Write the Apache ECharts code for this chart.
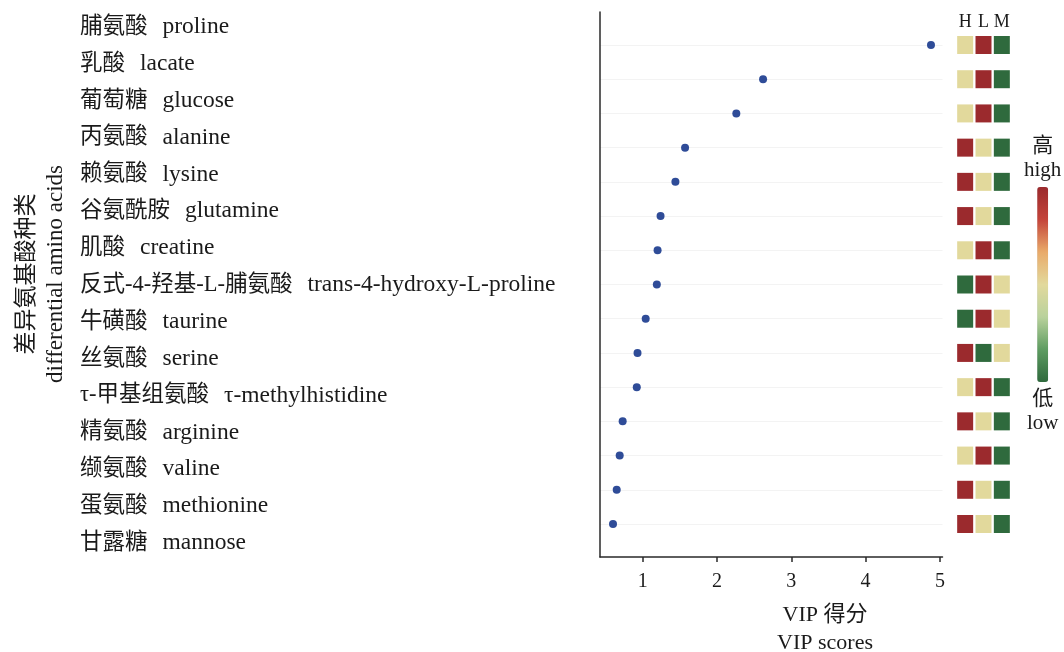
<!DOCTYPE html>
<html>
<head>
<meta charset="utf-8">
<script src="https://cdn.jsdelivr.net/npm/echarts@6/dist/echarts.min.js"></script>
<style>
  html, body { margin: 0; padding: 0; background: #fff; }
  #chart { width: 1064px; height: 652px; }
</style>
</head>
<body>
<div id="chart"></div>
<script>
    // 代谢物名称（中文 + 英文）
    const labelsCn = ['脯氨酸', '乳酸', '葡萄糖', '丙氨酸', '赖氨酸', '谷氨酰胺', '肌酸', '反式-4-羟基-L-脯氨酸',
        '牛磺酸', '丝氨酸', 'τ-甲基组氨酸', '精氨酸', '缬氨酸', '蛋氨酸', '甘露糖'];
    const labelsEn = ['proline', 'lacate', 'glucose', 'alanine', 'lysine', 'glutamine', 'creatine', 'trans-4-hydroxy-L-proline',
        'taurine', 'serine', 'τ-methylhistidine', 'arginine', 'valine', 'methionine', 'mannose'];

    // VIP 得分
    const vipScores = [4.88, 2.62, 2.26, 1.57, 1.44, 1.24, 1.20, 1.19, 1.04, 0.93, 0.92, 0.73, 0.69, 0.65, 0.60];

    // 热图分组 和 每组的相对水平 (0 低, 1 中, 2 高)
    const groups = ['H', 'L', 'M'];
    const levelH = [1, 1, 1, 2, 2, 2, 1, 0, 0, 2, 1, 2, 1, 2, 2];
    const levelL = [2, 2, 2, 1, 1, 1, 2, 2, 2, 0, 2, 1, 2, 1, 1];
    const levelM = [0, 0, 0, 0, 0, 0, 0, 1, 1, 1, 0, 0, 0, 0, 0];

    const xTicks = [1, 2, 3, 4, 5];

    const fontFamily = "'Liberation Serif', 'Noto Sans CJK SC', serif";
    const textColor = '#1a1a1a';

    let categories = labelsCn.map((c, i) => c + '  ' + labelsEn[i]);

    let heatData = [];
    [levelH, levelL, levelM].forEach((arr, g) => {
        arr.forEach((v, i) => {
            heatData.push([groups[g], categories[i], v]);
        });
    });

    let chart = echarts.init(document.getElementById('chart'));

    let option = {
        animation: false,
        title: {
            text: 'VIP 得分\nVIP scores',
            left: 825,
            top: 601,
            padding: 0,
            textAlign: 'center',
            textStyle: {
                fontFamily: fontFamily,
                fontSize: 22,
                fontWeight: 'normal',
                lineHeight: 28,
                color: textColor
            }
        },
        graphic: [{
            type: 'text',
            x: 41,
            y: 274,
            rotation: Math.PI / 2,
            style: {
                text: '差异氨基酸种类\ndifferential amino acids',
                fontFamily: fontFamily,
                fontSize: 23,
                lineHeight: 29,
                align: 'center',
                verticalAlign: 'middle',
                fill: textColor
            }
        }],
        visualMap: {
            type: 'continuous',
            seriesIndex: 2,
            dimension: 2,
            min: 0,
            max: 2,
            calculable: false,
            orient: 'vertical',
            left: 1024,
            top: 134,
            padding: 0,
            itemWidth: 11,
            itemHeight: 195,
            textGap: 5,
            text: ['高\nhigh', '低\nlow'],
            textStyle: {
                fontFamily: fontFamily,
                fontSize: 21,
                lineHeight: 24,
                color: textColor
            },
            inRange: {
                color: ['#2f6a3d', '#5e9c61', '#b9d29c', '#e2d99c', '#e9aa6a', '#c4443a', '#9b2a2d']
            }
        },
        grid: [
            // 坐标轴框架
            { left: 600, width: 342.5, top: 12, bottom: 95 },
            // 散点
            { left: 600, width: 342.5, top: 45, bottom: 128 },
            // 热图
            { left: 956, width: 55, top: 45, bottom: 128 },
            // 名称标签
            { left: 80, width: 10, top: 27, bottom: 109 }
        ],
        xAxis: [
            {
                gridIndex: 0,
                type: 'value',
                min: 0.425,
                max: 5.035,
                axisLine: { show: true, onZero: false, lineStyle: { color: '#2a2a2a', width: 1.5 } },
                axisTick: { show: true, customValues: xTicks, length: 5, lineStyle: { color: '#2a2a2a', width: 1.5 } },
                axisLabel: {
                    customValues: xTicks,
                    margin: 15,
                    fontFamily: fontFamily,
                    fontSize: 20,
                    color: textColor
                },
                splitLine: { show: false }
            },
            {
                gridIndex: 1,
                type: 'value',
                min: 0.425,
                max: 5.035,
                show: false
            },
            {
                gridIndex: 2,
                type: 'category',
                data: groups,
                position: 'top',
                axisLine: { show: false },
                axisTick: { show: false },
                axisLabel: {
                    interval: 0,
                    margin: 14,
                    fontFamily: fontFamily,
                    fontSize: 18,
                    color: textColor
                }
            },
            {
                gridIndex: 3,
                type: 'value',
                show: false
            }
        ],
        yAxis: [
            {
                gridIndex: 0,
                type: 'value',
                min: 0,
                max: 1,
                axisLine: { show: true, onZero: false, lineStyle: { color: '#2a2a2a', width: 1.5 } },
                axisTick: { show: false },
                axisLabel: { show: false },
                splitLine: { show: false }
            },
            {
                gridIndex: 1,
                type: 'category',
                data: categories,
                inverse: true,
                boundaryGap: false,
                axisLine: { show: false },
                axisTick: { show: false },
                axisLabel: { show: false },
                splitLine: { show: true, lineStyle: { color: '#f3f3f3', width: 1 } }
            },
            {
                gridIndex: 2,
                type: 'category',
                data: categories,
                inverse: true,
                boundaryGap: false,
                show: false
            },
            {
                gridIndex: 3,
                type: 'category',
                data: categories,
                inverse: true,
                boundaryGap: false,
                axisLine: { show: false },
                axisTick: { show: false },
                splitLine: { show: false },
                axisLabel: {
                    interval: 0,
                    align: 'left',
                    margin: 0,
                    formatter: function (val, idx) {
                        return '{cn|' + labelsCn[idx] + '}{gap|}{en|' + labelsEn[idx] + '}';
                    },
                    rich: {
                        cn: { fontFamily: fontFamily, fontSize: 22.5, color: textColor },
                        gap: { width: 15 },
                        en: { fontFamily: fontFamily, fontSize: 23.5, color: textColor }
                    }
                }
            }
        ],
        series: [
            {
                // 占位，保证标签网格有系列
                type: 'scatter',
                xAxisIndex: 3,
                yAxisIndex: 3,
                data: [],
                silent: true
            },
            {
                name: 'VIP',
                type: 'scatter',
                xAxisIndex: 1,
                yAxisIndex: 1,
                symbolSize: 8,
                itemStyle: { color: '#2f4c98', opacity: 1 },
                data: vipScores.map((v, i) => [v, categories[i]])
            },
            {
                name: '热图',
                type: 'scatter',
                xAxisIndex: 2,
                yAxisIndex: 2,
                symbol: 'rect',
                symbolSize: [16, 18],
                itemStyle: { opacity: 1 },
                data: heatData
            }
        ]
    };

    chart.setOption(option);
</script>
</body>
</html>
